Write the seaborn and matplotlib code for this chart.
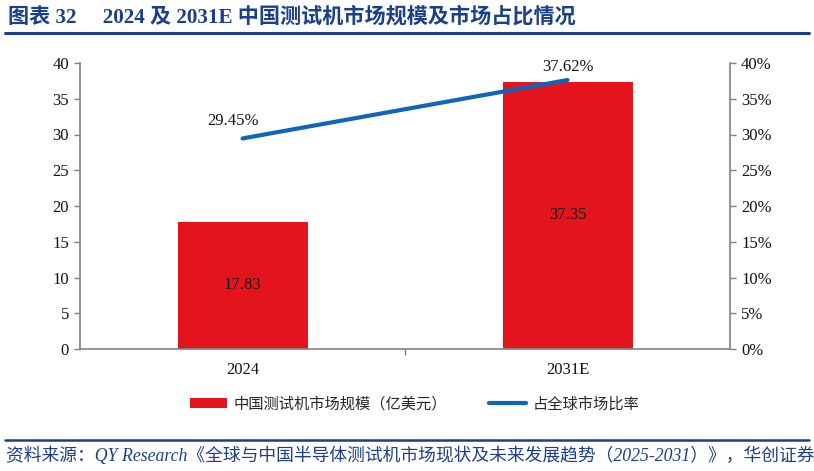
import numpy as np
import pandas as pd
import matplotlib
matplotlib.use("Agg")
import matplotlib.pyplot as plt
import seaborn as sns
from matplotlib.lines import Line2D
from matplotlib.patches import Patch

categories = ["2024", "2031E"]
market_size = [17.83, 37.35]          # 亿美元
share_pct = [29.45, 37.62]            # %
left_ticks = [0, 5, 10, 15, 20, 25, 30, 35, 40]
right_ticks = [0, 5, 10, 15, 20, 25, 30, 35, 40]

title_text = "图表 32     2024 及 2031E 中国测试机市场规模及市场占比情况"
source_text = "资料来源：QY Research《全球与中国半导体测试机市场现状及未来发展趋势（2025-2031）》，华创证券"
bar_label = "中国测试机市场规模（亿美元）"
line_label = "占全球市场比率"

sns.set_theme(style="white")
num_font = ["Liberation Serif", "Noto Sans CJK SC"]
plt.rcParams["font.family"] = num_font
plt.rcParams["axes.unicode_minus"] = False

RED = "#E3141C"
BLUE = "#0F66B8"
NAVY = "#1B3F8B"
GREY = "#808080"
TXT = "#111111"

fig = plt.figure(figsize=(8.14, 4.71), dpi=100)
ax = fig.add_axes([80/814, 1-349/471, 650/814, 286/471])

df = pd.DataFrame({"cat": categories, "size": market_size})
sns.barplot(data=df, x="cat", y="size", color=RED, width=0.4, saturation=1,
            ax=ax, edgecolor="none")
ax.set_xlim(-0.5, 1.5)
ax.set_ylim(0, 40)
ax.set_yticks(left_ticks)
ax.set_xlabel("")
ax.set_ylabel("")
for c in ax.containers:
    ax.bar_label(c, labels=[f"{v:.2f}" for v in market_size], label_type="center",
                 fontsize=12, color=TXT, family=num_font)

ax2 = ax.twinx()
ax2.set_position(ax.get_position())
sns.lineplot(x=np.arange(len(categories)), y=share_pct, color=BLUE, lw=3,
             ax=ax2, legend=False)
ax2.set_ylim(0, 40)
ax2.set_yticks(right_ticks)
ax2.set_yticklabels([f"{t}%" for t in right_ticks])
ax2.set_xlim(-0.5, 1.5)
for i, v in enumerate(share_pct):
    dx = -9 if i == 0 else 0
    dy = 17 if i == 0 else 13
    ax2.annotate(f"{v:.2f}%", (i, v), xytext=(dx * 0.72, dy * 0.72),
                 textcoords="offset points", ha="center", va="center",
                 fontsize=12, color=TXT, family=num_font)

for a in (ax, ax2):
    for s in a.spines.values():
        s.set_visible(False)
ax.spines["left"].set_visible(True)
ax.spines["bottom"].set_visible(True)
ax2.spines["right"].set_visible(True)
for s in (ax.spines["left"], ax.spines["bottom"], ax2.spines["right"]):
    s.set_color(GREY)
    s.set_linewidth(1.2)

ax.tick_params(axis="y", direction="out", length=4, width=1, color=GREY,
               labelsize=12, labelcolor=TXT, pad=4, left=True)
ax2.tick_params(axis="y", direction="out", length=4, width=1, color=GREY,
                labelsize=12, labelcolor=TXT, pad=4, right=True)
ax.set_xticks([0, 1])
ax.set_xticklabels(categories)
ax.set_xticks([0.5], minor=True)
ax.tick_params(axis="x", which="major", length=0, labelsize=12,
               labelcolor=TXT, pad=9)
ax.tick_params(axis="x", which="minor", direction="out", length=4, width=1,
               color=GREY, bottom=True)
for lab in ax.get_yticklabels() + ax2.get_yticklabels() + ax.get_xticklabels():
    lab.set_family(num_font)
ax.grid(False)
ax2.grid(False)

# legend
handles = [Patch(facecolor=RED, edgecolor="none", label=bar_label),
           Line2D([0], [0], color=BLUE, lw=3, label=line_label)]
fig.legend(handles=handles, loc="center", bbox_to_anchor=(415/814, 1-404/471),
           ncol=2, frameon=False, prop={"family": ["Noto Sans CJK SC"], "size": 11},
           handlelength=2.4, handleheight=0.6, columnspacing=2.75, handletextpad=0.45)

# title and rules
fig.text(8/814, 1-17/471, title_text, ha="left", va="center", fontsize=15.2,
         fontweight="bold", color=NAVY, family=["Liberation Serif", "Noto Sans CJK SC"])
fig.add_artist(Line2D([5/814, 809/814], [1-33/471, 1-33/471], color=NAVY, lw=2.2,
                      transform=fig.transFigure))
fig.add_artist(Line2D([5/814, 809/814], [1-440/471, 1-440/471], color=NAVY, lw=1.8,
                      transform=fig.transFigure))
fig.text(6/814, 1-456/471, source_text, ha="left", va="center", fontsize=12.8,
         style="italic", color=NAVY, family=["Liberation Serif", "Noto Sans CJK SC"])

fig.savefig("out.png", dpi=100)
